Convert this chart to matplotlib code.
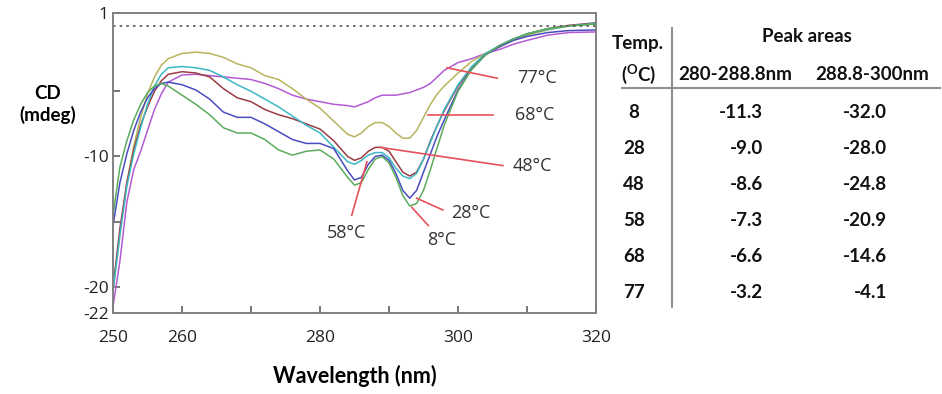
import numpy as np
import matplotlib
matplotlib.use("Agg")
import matplotlib.pyplot as plt

# longueurs d'onde (nm)
wl = [250, 251, 252, 253, 254, 255, 256, 257, 258, 260, 262, 264, 266, 268,
      270, 272, 274, 276, 278, 280, 282, 284, 285, 286, 287, 288, 289, 290,
      291, 292, 293, 294, 295, 296, 297, 298, 300, 302, 304, 306, 308, 310,
      313, 316, 320]

# spectres CD (mdeg)
cd_8 = [-14.5, -10.8, -8.8, -7.2, -6.0, -5.1, -4.6, -4.4, -4.6, -5.3, -6.0, -6.8, -7.8, -8.2,
        -8.2, -8.7, -9.5, -9.9, -9.6, -9.5, -10.2, -11.6, -12.2, -12.0, -11.0, -10.2, -10.0, -10.5,
        -11.6, -13.0, -13.8, -13.6, -12.6, -11.0, -9.3, -7.6, -5.0, -3.3, -2.2, -1.5, -1.0, -0.6,
        -0.2, 0.0, 0.15]
cd_28 = [-15.3, -12.0, -9.8, -8.0, -6.6, -5.5, -4.8, -4.4, -4.3, -4.5, -4.9, -5.6, -6.6, -7.0,
         -7.0, -7.5, -8.1, -8.7, -9.0, -9.0, -9.4, -11.1, -11.8, -11.6, -10.6, -10.0, -9.9, -10.3,
         -11.3, -12.6, -13.2, -12.6, -11.2, -9.8, -8.4, -7.2, -4.9, -3.3, -2.2, -1.6, -1.1, -0.8,
         -0.5, -0.35, -0.3]
cd_48 = [-20.0, -15.5, -12.0, -9.5, -7.6, -6.2, -5.0, -4.2, -3.7, -3.5, -3.6, -3.9, -4.8, -5.5,
         -5.8, -6.4, -6.8, -7.1, -7.5, -7.9, -8.8, -10.0, -10.3, -10.1, -9.6, -9.3, -9.3, -9.6,
         -10.4, -11.2, -11.5, -11.2, -10.2, -8.8, -7.6, -6.5, -4.6, -3.2, -2.2, -1.5, -1.0, -0.6,
         -0.2, 0.05, 0.25]
cd_58 = [-20.3, -16.0, -12.3, -9.8, -7.8, -6.0, -4.6, -3.7, -3.2, -3.1, -3.2, -3.4, -3.9, -4.5,
         -5.0, -5.6, -6.2, -6.9, -7.6, -8.2, -9.3, -10.4, -10.6, -10.3, -9.9, -9.7, -9.7, -10.1,
         -10.9, -11.5, -11.7, -11.3, -10.2, -8.9, -7.6, -6.4, -4.5, -3.1, -2.1, -1.5, -1.0, -0.6,
         -0.25, 0.0, 0.2]
cd_68 = [-20.3, -16.0, -12.0, -9.2, -7.0, -5.2, -3.9, -3.0, -2.5, -2.1, -2.0, -2.1, -2.4, -2.9,
         -3.2, -3.8, -4.1, -4.8, -5.6, -6.3, -7.3, -8.3, -8.5, -8.2, -7.7, -7.4, -7.4, -7.7,
         -8.2, -8.6, -8.6, -8.0, -7.0, -6.0, -5.2, -4.6, -3.6, -2.7, -2.1, -1.6, -1.1, -0.7,
         -0.3, 0.0, 0.2]
cd_77 = [-21.5, -18.0, -13.5, -11.0, -9.6, -8.0, -6.4, -5.2, -4.3, -3.75, -3.7, -3.8, -3.9, -4.0,
         -4.1, -4.4, -4.8, -5.3, -5.6, -5.8, -6.0, -6.1, -6.2, -6.0, -5.8, -5.5, -5.3, -5.3,
         -5.3, -5.2, -5.1, -4.9, -4.7, -4.4, -3.9, -3.4, -2.8, -2.5, -2.1, -1.8, -1.4, -1.1,
         -0.7, -0.5, -0.45]

# tableau des aires de pics
temps_tab = ["8", "28", "48", "58", "68", "77"]
aire_1 = ["-11.3", "-9.0", "-8.6", "-7.3", "-6.6", "-3.2"]
aire_2 = ["-32.0", "-28.0", "-24.8", "-20.9", "-14.6", "-4.1"]

plt.rcParams['font.family'] = ['Lato', 'DejaVu Sans']
plt.rcParams['mathtext.fontset'] = 'custom'
plt.rcParams['mathtext.rm'] = 'Lato'
plt.rcParams['mathtext.bf'] = 'Lato:bold'

fig = plt.figure(figsize=(9.42, 3.94), dpi=100)
ax = fig.add_axes([0.12, 0.2056, 0.5127, 0.7614])

# courbes
ax.plot(wl, cd_77, color='#b45ad2', lw=1.1)
ax.plot(wl, cd_68, color='#b8b45e', lw=1.1)
ax.plot(wl, cd_48, color='#9c3c44', lw=1.1)
ax.plot(wl, cd_58, color='#3cb8c4', lw=1.1)
ax.plot(wl, cd_28, color='#4a4cc0', lw=1.1)
ax.plot(wl, cd_8, color='#5aac5c', lw=1.1)

ax.axhline(0, color='#555555', lw=1.2, ls=(0, (1.5, 2.5)))

ax.set_xlim(250, 320)
ax.set_ylim(-22, 1)

# axes et graduations
for s in ax.spines.values():
    s.set_color('#808080')
    s.set_linewidth(1.4)
ax.set_xticks([250, 260, 280, 300, 320])
ax.set_xticks([270, 290, 310], minor=True)
ax.set_yticks([-22, -20, -10, 1])
ax.set_yticks([-15, -5], minor=True)
ax.set_yticklabels(['-22', '-20', '-10', '1'])
ax.tick_params(which='both', direction='in', length=5, width=1.2, color='#606060',
               labelsize=12.5, labelcolor='#222222', top=False, right=False)
ax.tick_params(axis='x', pad=12)
ax.tick_params(axis='y', pad=3)
for lab in ax.get_xticklabels() + ax.get_yticklabels():
    lab.set_family('Open Sans')
ax.set_xlabel("Wavelength (nm)", fontsize=15.5, fontweight='bold', labelpad=14)
fig.text(0.051, 0.735, "CD\n(mdeg)", ha='center', va='center', fontsize=13.5,
         fontweight='bold', linespacing=1.25)

# annotations des températures
rouge = '#e8505a'
annots = [("77°C", (298.4, -3.2), (305.7, -4.0), (308.6, -4.0), 'left'),
          ("68°C", (295.7, -6.8), (305.1, -6.8), (308.3, -6.8), 'left'),
          ("48°C", (288.7, -9.3), (306.5, -10.7), (307.9, -10.7), 'left'),
          ("58°C", (286.8, -10.4), (284.6, -14.5), (283.8, -15.9), 'center'),
          ("28°C", (294.0, -13.2), (297.8, -14.1), (299.0, -14.3), 'left'),
          ("8°C", (293.3, -13.9), (295.7, -15.3), (297.7, -16.4), 'center')]
for txt, p0, p1, pt, ha in annots:
    ax.plot([p0[0], p1[0]], [p0[1], p1[1]], color=rouge, lw=1.2)
    ax.text(pt[0], pt[1], txt, ha=ha, va='center', fontsize=13, color='#333333',
            family='Open Sans')

# tableau
def px(x, y):
    return x / 942, 1 - y / 394

kw = dict(fontweight='bold', fontsize=13.5, color='#111111')
fig.text(*px(638, 43), "Temp.", ha='center', va='center', **kw)
fig.text(*px(639, 74), r"($\mathbf{^{O}}$C)", ha='center', va='center', **kw)
fig.text(*px(807, 37), "Peak areas", ha='center', va='center', **kw)
fig.text(*px(735, 75), "280-288.8nm", ha='center', va='center', **kw)
fig.text(*px(872, 75), "288.8-300nm", ha='center', va='center', **kw)
for i in range(len(temps_tab)):
    y = 113 + i * 35.8
    fig.text(*px(634, y), temps_tab[i], ha='center', va='center', **kw)
    fig.text(*px(763, y), aire_1[i], ha='right', va='center', **kw)
    fig.text(*px(887, y), aire_2[i], ha='right', va='center', **kw)
fig.add_artist(plt.Line2D([622 / 942, 940 / 942], [1 - 88 / 394] * 2, color='#909090', lw=1.5))
fig.add_artist(plt.Line2D([672 / 942] * 2, [1 - 28 / 394, 1 - 307 / 394], color='#909090', lw=1.5))

fig.savefig("out.png", dpi=100)
